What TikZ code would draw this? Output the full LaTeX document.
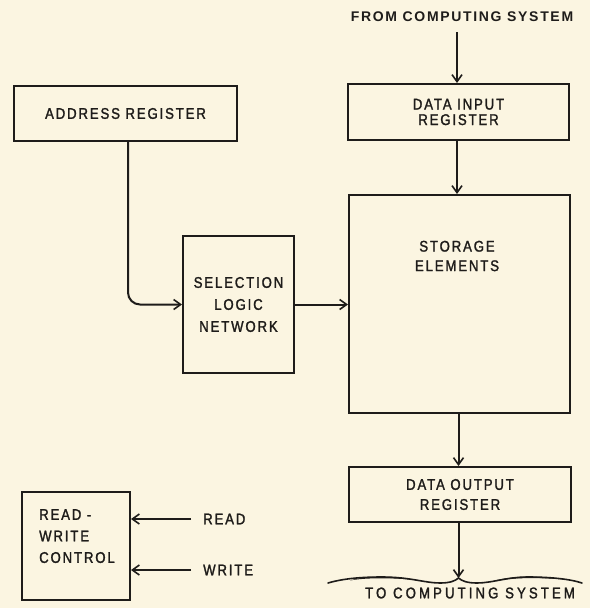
\documentclass[tikz,border=0pt]{standalone}
\usepackage{fontspec}
\setmainfont{Liberation Sans}[LetterSpace=12,FakeStretch=0.85,FakeBold=1.6]
\newfontfamily\boldlet{Liberation Sans}[LetterSpace=12]
\newfontfamily\widelet{Liberation Sans}[LetterSpace=20,FakeStretch=0.85,FakeBold=1.6]
\usetikzlibrary{arrows.meta}
\definecolor{paper}{HTML}{FBF5E1}
\definecolor{ink}{HTML}{1E1C1A}
\begin{document}
\begin{tikzpicture}[x=1pt,y=-1pt,
  every node/.style={font=\fontsize{15.5}{16}\selectfont, text=ink},
  blk/.style={draw=ink, line width=2pt, align=center, inner sep=0pt},
  conn/.style={draw=ink, line width=2pt, -{Straight Barb[length=7pt,width=10pt,line width=1.6pt]}},
  lbl/.style={inner sep=0pt}]
\fill[paper] (0,0) rectangle (590,608);
\useasboundingbox (0,0) rectangle (590,608);

\node[lbl, font=\fontsize{14}{15}\boldlet\bfseries] (from) at (462,17) {FROM COMPUTING SYSTEM};
\coordinate (fromend) at (457,32);

\node[blk, minimum width=221pt, minimum height=56pt, font=\fontsize{15.5}{15.5}\selectfont] (din) at (458.5,112) {DATA INPUT\\REGISTER};
\node[blk, minimum width=221pt, minimum height=218pt] (stor) at (459.5,304) {};
\node[lbl, align=center, font=\fontsize{15.5}{19.5}\selectfont] (stortxt) at (457,256) {STORAGE\\ELEMENTS};
\node[blk, minimum width=222pt, minimum height=55pt, font=\fontsize{15.5}{20}\selectfont] (dout) at (460,494.5) {DATA OUTPUT\\REGISTER};
\coordinate (toend) at (458.5,578);
\node[lbl, font=\fontsize{15.5}{16}\widelet] (to) at (470,593) {TO COMPUTING SYSTEM};

\node[blk, minimum width=223pt, minimum height=55pt] (addr) at (125.5,113.5) {ADDRESS REGISTER};
\node[blk, minimum width=111pt, minimum height=137pt, font=\fontsize{15.5}{22}\selectfont] (sel) at (238.5,304.5) {SELECTION\\LOGIC\\NETWORK};

\node[blk, minimum width=108pt, minimum height=108pt] (rw) at (76,546) {};
\node[lbl, align=left, anchor=north west, font=\fontsize{15.5}{21.5}\selectfont] (rwtxt) at (39,509) {READ -\\WRITE\\CONTROL};
\node[lbl, anchor=west] (read) at (203,519) {READ};
\node[lbl, anchor=west] (write) at (203,570) {WRITE};
\coordinate (readsrc) at (191,519);
\coordinate (writesrc) at (191,570);

\draw[conn] (fromend) -- (din.north -| fromend);
\draw[conn] (din.south -| 457,0) -- (stor.north -| 457,0);
\draw[conn] (stor.south -| 458.5,0) -- (dout.north -| 458.5,0);
\draw[conn] (dout.south -| 458.5,0) -- (toend);
\draw[conn, rounded corners=12pt] (addr.south -| 128,0) |- (sel.west);
\draw[conn] (sel.east) -- (stor.west |- sel.east);
\draw[conn] (readsrc) -- (rw.east |- readsrc);
\draw[conn] (writesrc) -- (rw.east |- writesrc);

\draw[ink, line width=1.6pt, line cap=round]
  (328,583) .. controls (345,578) and (365,577) .. (382,577)
  .. controls (410,577) and (425,583) .. (440,583)
  .. controls (450,583) and (455,581) .. (458.5,578)
  .. controls (462,581) and (467,583) .. (477,583)
  .. controls (492,583) and (507,577) .. (528,577)
  .. controls (550,577) and (570,579) .. (582,583);
\fill[ink] (350,580.5) .. controls (365,575.5) and (395,575.5) .. (420,580.5)
  .. controls (395,577.5) and (365,577.5) .. (350,580.5) -- cycle;
\fill[ink] (495,580.5) .. controls (515,575.5) and (540,575.5) .. (565,579.5)
  .. controls (540,577.5) and (515,577.5) .. (495,580.5) -- cycle;
\end{tikzpicture}
\end{document}
